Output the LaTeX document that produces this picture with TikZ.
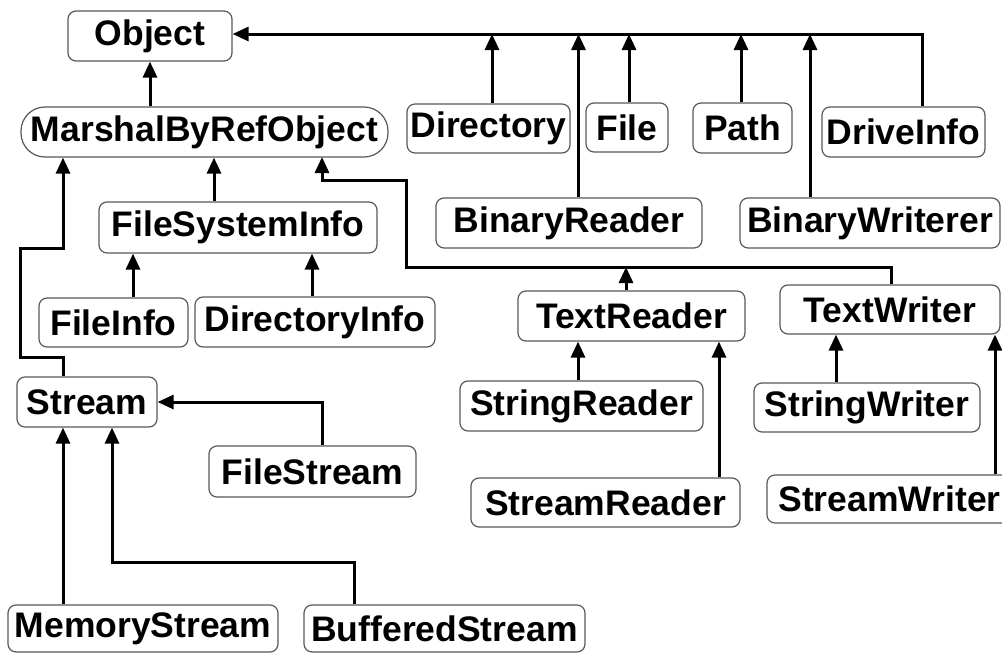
\documentclass[tikz,border=0pt]{standalone}
\usepackage{fontspec}
\setmainfont{Liberation Sans}
\usetikzlibrary{arrows.meta}
\begin{document}
\begin{tikzpicture}[x=1pt,y=-1pt,
  cls/.style={draw=black!65, line width=1.2pt, rounded corners=8pt, fill=white,
    inner sep=0pt, minimum height=50pt,
    font=\fontsize{35.5}{40}\selectfont\bfseries},
  oval/.style={cls, rounded corners=24pt},
  inh/.style={line width=3pt, -{Triangle[length=16pt,width=14pt]}},
  plain/.style={line width=3pt}]
\useasboundingbox (0,0) rectangle (1002,653);
\clip (0,0) rectangle (1002,653);

% class boxes
\node[cls, minimum width=164pt] (obj) at (150,36) {Object};
\node[oval, minimum width=367pt] (mbr) at (204.5,132) {MarshalByRefObject};
\node[cls, minimum width=163pt, minimum height=49pt] (dir) at (488.5,128.5) {Directory};
\node[cls, minimum width=82pt, minimum height=49pt] (file) at (627,127.5) {File};
\node[cls, minimum width=99pt] (pathn) at (742.5,128) {Path};
\node[cls, minimum width=163pt] (drive) at (903.5,132) {DriveInfo};
\node[cls, minimum width=278pt, minimum height=51pt] (fsi) at (238,227.5) {FileSystemInfo};
\node[cls, minimum width=266pt] (br) at (569,223) {BinaryReader};
\node[cls, minimum width=260pt] (bw) at (870,223) {BinaryWriterer};
\node[cls, minimum width=149pt, minimum height=49pt] (finfo) at (113.5,322.5) {FileInfo};
\node[cls, minimum width=240pt] (dinfo) at (315,322) {DirectoryInfo};
\node[cls, minimum width=227pt] (tr) at (631.5,316) {TextReader};
\node[cls, minimum width=220pt, minimum height=49pt] (tw) at (890,309.5) {TextWriter};
\node[cls, minimum width=140pt] (stream) at (87,402) {Stream};
\node[cls, minimum width=207pt, minimum height=51pt] (fstream) at (312.5,471.5) {FileStream};
\node[cls, minimum width=243pt] (sr) at (581.5,406) {StringReader};
\node[cls, minimum width=226pt, minimum height=49pt] (sw) at (867,407.5) {StringWriter};
\node[cls, minimum width=269pt, minimum height=49pt] (srd) at (605.5,502.5) {StreamReader};
\node[cls, minimum width=245pt, minimum height=48pt] (swr) at (889.5,499) {StreamWriter};
\node[cls, minimum width=270pt, minimum height=47pt] (ms) at (143,628.5) {MemoryStream};
\node[cls, minimum width=281pt, minimum height=47pt] (bs) at (444.5,628.5) {BufferedStream};

% junction points of the shared connectors
\coordinate (bus) at (0,34);
\coordinate (tbus) at (0,267);

% Object and its direct subclasses
\draw[inh] (mbr.north -| obj.south) -- (obj.south);
\draw[inh] ([xshift=18.5pt]drive.north) |- (obj.east |- bus);
\draw[inh] ([xshift=3.5pt]dir.north) -- ([xshift=3.5pt]dir.north |- bus);
\draw[inh] ([xshift=2pt]file.north) -- ([xshift=2pt]file.north |- bus);
\draw[inh] ([xshift=-1.5pt]pathn.north) -- ([xshift=-1.5pt]pathn.north |- bus);
\draw[inh] ([xshift=9.5pt]br.north) -- ([xshift=9.5pt]br.north |- bus);
\draw[inh] ([xshift=-60pt]bw.north) -- ([xshift=-60pt]bw.north |- bus);

% MarshalByRefObject subclasses
\draw[inh] ([xshift=-24pt]fsi.north) -- ([xshift=-24pt]fsi.north |- mbr.south);
\draw[inh] ([xshift=-24pt]stream.north) -- ++(0,-19) -- ++(-43,0) -- ++(0,-109)
  -- ++(43,0) -- ([xshift=-24pt]stream.north |- mbr.south);
\draw[inh] ([xshift=1pt]tw.north) |- (406,267) |- (322,180) -- (322,157);
\draw[inh] ([xshift=-5.5pt]tr.north) -- ([xshift=-5.5pt]tr.north |- tbus);

% FileSystemInfo subclasses
\draw[inh] ([xshift=19.5pt]finfo.north) -- ([xshift=19.5pt]finfo.north |- fsi.south);
\draw[inh] ([xshift=-3pt]dinfo.north) -- ([xshift=-3pt]dinfo.north |- fsi.south);

% Stream subclasses
\draw[inh] ([xshift=9.5pt]fstream.north) |- (stream.east);
\draw[inh] ([xshift=-80pt]ms.north) -- ([xshift=-80pt]ms.north |- stream.south);
\draw[inh] ([xshift=-90.5pt]bs.north) -- ++(0,-42) -| ([xshift=25pt]stream.south);

% reader / writer subclasses
\draw[inh] ([xshift=-3.5pt]sr.north) -- ([xshift=-3.5pt]sr.north |- tr.south);
\draw[inh] ([xshift=113.5pt]srd.north) -- ([xshift=113.5pt]srd.north |- tr.south);
\draw[inh] ([xshift=-31pt]sw.north) -- ([xshift=-31pt]sw.north |- tw.south);
\draw[inh] ([xshift=105.5pt]swr.north) -- ([xshift=105.5pt]swr.north |- tw.south);
\end{tikzpicture}
\end{document}
